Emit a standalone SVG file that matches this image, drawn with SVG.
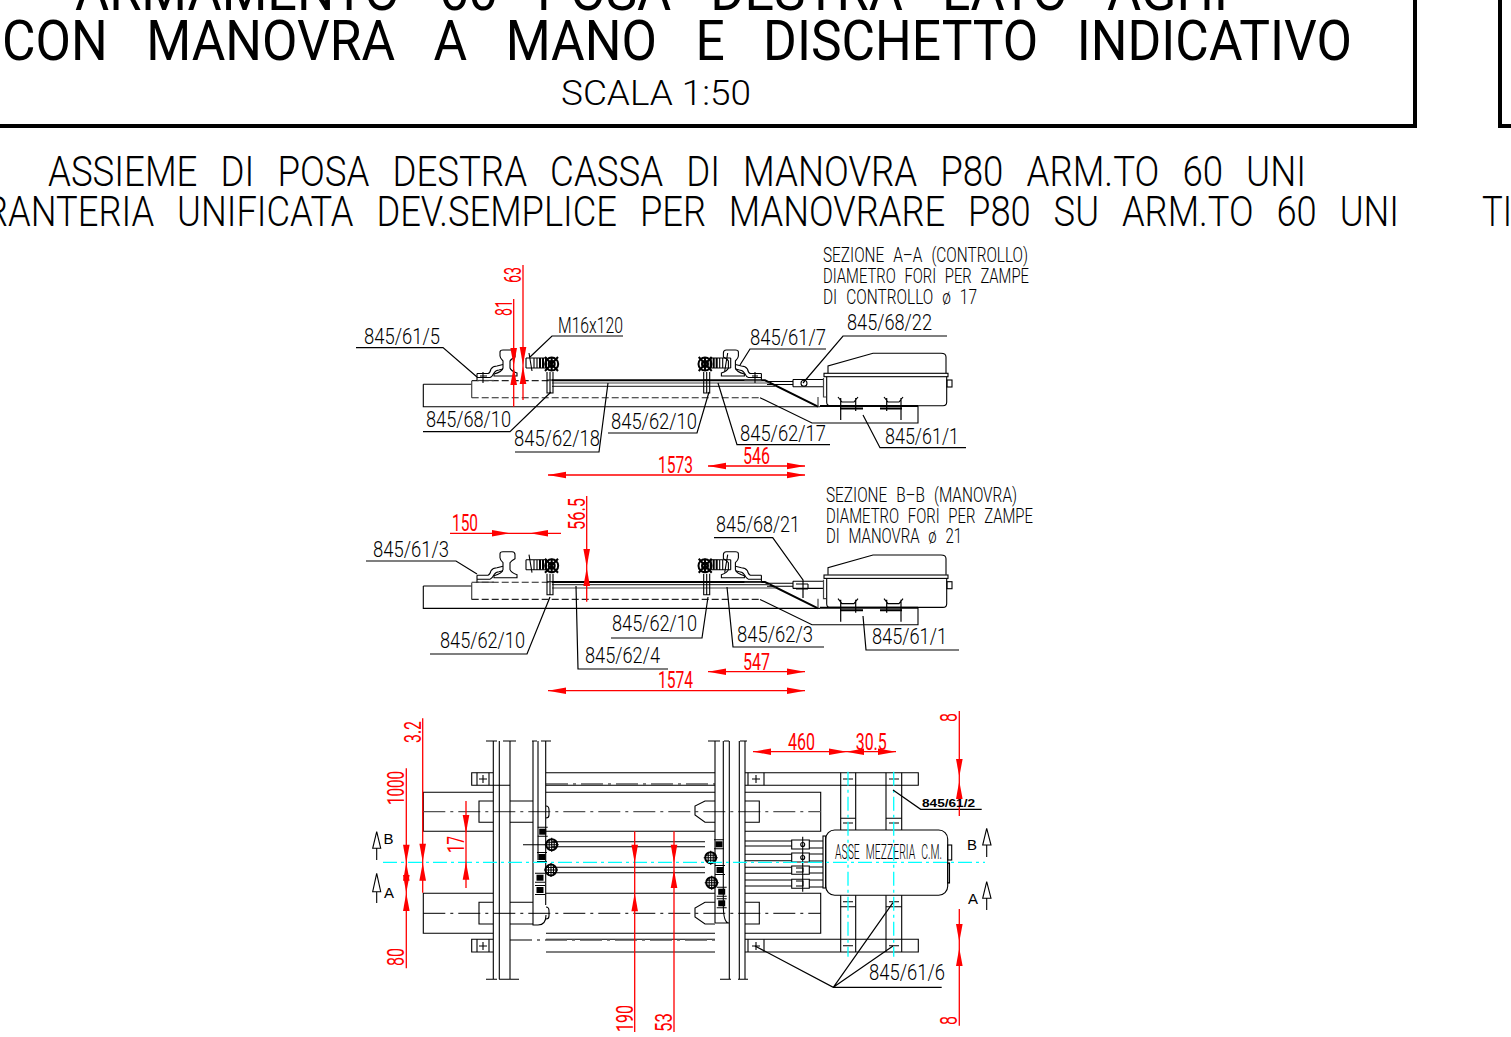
<svg xmlns="http://www.w3.org/2000/svg" width="1511" height="1037" viewBox="0 0 1511 1037">
<style>
text{font-family:Roboto,"Liberation Sans",sans-serif;font-weight:300;fill:#000;white-space:pre}
.t1{font-size:56px;font-weight:400;word-spacing:7px}
.t2{font-size:42px;word-spacing:3px}
.t3{font-size:35px}
.l{font-size:22px}
.s{font-size:21px;word-spacing:1px}
.r{font-size:23px;fill:#f00;font-weight:400}
.b{font-size:11px;font-weight:700;font-family:"Liberation Sans",sans-serif}
.m{font-size:15px;font-family:"Liberation Sans",sans-serif;font-weight:400}
.k{fill:none;stroke:#000;stroke-width:1.1}
.g{fill:none;stroke:#444;stroke-width:1.2}
.th{fill:none;stroke:#000;stroke-width:2}
.d{fill:none;stroke:#222;stroke-width:1.1;stroke-dasharray:7 3}
.w{fill:#fff;stroke:#000;stroke-width:1.1}
.ld{fill:none;stroke:#000;stroke-width:1.2}
.rd{fill:none;stroke:#f00;stroke-width:1.3}
.cy{fill:none;stroke:#0ff;stroke-width:1.3;stroke-dasharray:14 4 3 4}
.cl{fill:none;stroke:#000;stroke-width:1;stroke-dasharray:22 5 3 5}
.clg{fill:none;stroke:#555;stroke-width:1.3;stroke-dasharray:22 5 3 5}
.fr{fill:none;stroke:#000;stroke-width:4}
.ar{fill:#f00}
</style>
<defs>
<path id="aR" class="ar" d="M0,0L-18,-3.3V3.3Z"/>
<path id="aL" class="ar" d="M0,0L18,-3.3V3.3Z"/>
<path id="aD" class="ar" d="M0,0L-3.3,-18H3.3Z"/>
<path id="aU" class="ar" d="M0,0L-3.3,18H3.3Z"/>
<g id="rail">
<path class="w" d="M500,352Q500,350 503,350H512Q515,350 515,353V357Q511,359 510,361V368Q511,371 517,373V376H494V374Q502,372 503,368V361Q500,358 500,356Z"/>
<path class="k" d="M477,373.5H488Q490,373 491,369Q493,366 497,366L503,364.5M477,377.5H490Q492,377 494,373Q496,370 499,370L503,369M477,373.5V381"/>
<path class="g" d="M477,380.5H494"/>
</g>
<g id="cluster">
<path class="k" d="M529,353L532,371M526,358H547M526,368H548M526,358V368M534,358V368M537,358V368"/>
<path class="th" d="M540,358V368M543,358V368M546,358V368"/>
<circle class="th" cx="551.7" cy="364" r="6.5"/>
<circle class="th" cx="551.7" cy="364" r="3"/>
<path class="k" d="M547,372V393H553V372M550,372V393M547,380H553"/>
<path class="th" d="M545,357L558,371M545,371L558,357M551.7,357V371"/>
</g>
<g id="section">
<path class="k" d="M423.3,384.3H472M423.3,384.3V406.7H820"/>
<path class="g" d="M471.7,381V397.7"/>
<path class="d" d="M471.7,380.6H552M471.7,397.7H760"/>
<path class="k" d="M760,397.7L812,423H918V405.7"/>
<path class="th" d="M552,380.3H765L818,406.7"/>
<path class="g" d="M552,383H770M552,386.3H776"/>
<use href="#rail"/>
<use href="#rail" transform="matrix(-1 0 0 1 1238.4 0)"/>
<use href="#cluster"/>
<use href="#cluster" transform="matrix(-1 0 0 1 1256.7 0)"/>
<path class="k" d="M793,379.5H823M793,386.7H823M793,379.5V386.7M767,381.5H793M767,384.5H793"/>
<path class="g" d="M823.5,378V397H826M818,397V406"/>
<path class="k" d="M826.7,376.7V402Q826.7,405.7 830,405.7H943Q946.7,405.7 946.7,402V376.7"/>
<rect class="k" x="824" y="373.3" width="124" height="3.4"/>
<path class="k" d="M828,373V366L873,353.3H941Q946,353.3 946,357V373"/>
<rect class="k" x="947" y="380" width="5" height="7"/>
<path class="th" d="M820,406H918"/>
<path class="ld" d="M840.7,398V420M855.7,398V411M838,397L842,402H854L858,397M886.7,398V411M901,398V420M884,397L888,402H899L903,397"/>
<path class="th" d="M840,408.5H863M880,408.5H902"/>
</g>
<g id="boltP"><rect x="-3.5" y="-3" width="7" height="6" fill="#000"/><path class="k" d="M-5,-4.5H5M-5,4.5H5"/></g>
<g id="boltC"><circle class="th" r="5.5"/><path class="k" d="M-7,0H7M0,-7V7M-2.5,-5V5M2.5,-5V5M-5,-2.5H5M-5,2.5H5"/></g>
</defs>

<g id="title-block">
<path class="fr" d="M-5,126H1415V-5M1500,-5V126H1515"/>
<text class="t1" x="75" y="10" textLength="1153" lengthAdjust="spacingAndGlyphs">ARMAMENTO  60  POSA  DESTRA  LATO  AGHI</text>
<text class="t1" x="2" y="60" textLength="1350" lengthAdjust="spacingAndGlyphs">CON  MANOVRA  A  MANO  E  DISCHETTO  INDICATIVO</text>
<text class="t3" x="561" y="105" textLength="190" lengthAdjust="spacingAndGlyphs">SCALA 1:50</text>
<text class="t2" x="48" y="186" textLength="1258" lengthAdjust="spacingAndGlyphs">ASSIEME  DI  POSA  DESTRA  CASSA  DI  MANOVRA  P80  ARM.TO  60  UNI</text>
<text class="t2" x="-15" y="226" textLength="1414" lengthAdjust="spacingAndGlyphs">RANTERIA  UNIFICATA  DEV.SEMPLICE  PER  MANOVRARE  P80  SU  ARM.TO  60  UNI</text>
<text class="t2" x="1482" y="226" textLength="30" lengthAdjust="spacingAndGlyphs">TI</text>
</g>

<g id="section-a-a">
<use href="#section"/>
<path class="k" d="M483,372V383M480,376H487"/>
<path class="k" d="M755,372V383M752,376H758"/>
<circle class="k" cx="804" cy="383.3" r="3"/>
<text class="s" x="823" y="262" textLength="205" lengthAdjust="spacingAndGlyphs">SEZIONE  A–A  (CONTROLLO)</text>
<text class="s" x="823" y="283" textLength="206" lengthAdjust="spacingAndGlyphs">DIAMETRO  FORI  PER  ZAMPE</text>
<text class="s" x="823" y="304" textLength="154" lengthAdjust="spacingAndGlyphs">DI  CONTROLLO  ø  17</text>
</g>

<g id="section-b-b">
<use href="#section" y="201.7"/>
<path class="k" d="M796,584H808M796,589H808M808,584V589"/>
<text class="s" x="826" y="501.7" textLength="191" lengthAdjust="spacingAndGlyphs">SEZIONE  B–B  (MANOVRA)</text>
<text class="s" x="826" y="522.7" textLength="207" lengthAdjust="spacingAndGlyphs">DIAMETRO  FORI  PER  ZAMPE</text>
<text class="s" x="826" y="542.7" textLength="136" lengthAdjust="spacingAndGlyphs">DI  MANOVRA  ø  21</text>
</g>

<g id="plan-view">
<g id="plan-sleepers">
<path class="k" d="M493,792.3H423.3V831.3H493M546,792.3H715M745,792.3H820.7V831.3H745M546,831.3H715"/>
<path class="k" d="M493,893.3H423.3V933.3H493M546,893.3H715M745,893.3H820.7V933.3H745M546,933.3H715"/>
<path class="clg" d="M423.3,811.7H820.7"/>
<path class="cl" d="M423.3,913.3H820.7"/>
<path class="k" d="M493,801H479V822.3H493M510,801H533M510,822.3H533M745,801H759.3V822.3H745M715,801H705L695,806V815L705,822.3H715"/>
<path class="k" d="M493,902.3H479V924H493M510,902.3H533M510,924H533M745,902.3H759.3V924H745M715,902.3H705L695,908V917L705,924H715"/>
<path class="k" d="M546,806Q549,806 549,810V815Q549,818 546,818M546,907Q549,907 549,911V916Q549,919 546,919"/>
</g>
<g id="plan-strips">
<path class="k" d="M493,772.7H471.7V785.3H493M510,785.3H493M546,772.7H715M745,772.7H918.3V785.3H745M546,785.3H715"/>
<path class="k" d="M493,939.3H471.7V952H493M546,939.3H715M745,939.3H918.3V952H745M546,952H715"/>
<path class="clg" d="M546,784H715"/>
<path class="clg" d="M510,940H715"/>
<path class="k" d="M477,772.7V785.3M489,772.7V785.3M483,775V783M479,779H487M477,939.3V952M489,939.3V952M483,942V950M479,946H487"/>
<path class="k" d="M748,772.7V785.3M764,772.7V785.3M756,775V783M752,779H760M748,939.3V952M764,939.3V952M756,942V950M752,946H760"/>
</g>
<g id="plan-rails">
<path class="k" d="M493.3,741V979.3M499.3,741V979.3M510,741V979.3M486,741H497M503,741H516M486,979.3H497M499,979.3H519"/>
<path class="k" d="M533,741V925H538Q546,925 546,915M538,741V860M545.7,741V905M532,741H537M541,741H551"/>
<path class="k" d="M715,741V923M723.3,741V905Q723.3,923 729,923H715M708,741H720M724,741H729M729.3,741V979.3M739.3,741V979.3M745,741V979.3M740,741H747M720,979.3H731M738,979.3H748"/>
</g>
<g id="plan-rods">
<path class="k" d="M552,841.7H705M552,846.7H705M552,867.3H705M552,872.7H705M523,844.7H546"/>
<path class="k" d="M745,841H791.7M745,846H791.7M745,854.3H791.7M745,860.7H791.7M745,867.3H791.7M745,873.3H791.7M745,880H791.7M745,886H791.7"/>
<path class="k" d="M791.7,840H809.3V849H791.7ZM791.7,853H809.3V862H791.7ZM791.7,866H809.3V874.3H791.7ZM791.7,879.3H809.3V888.3H791.7Z"/>
<path class="k" d="M809.3,841H823M809.3,848H823M809.3,854H823M809.3,861H823M809.3,867H823M809.3,873H823M809.3,880H823M809.3,887H823"/>
<path class="k" d="M802.7,836.7V891.7"/>
<circle class="k" cx="802.7" cy="844.5" r="2"/><circle class="k" cx="802.7" cy="857.5" r="2"/>
<path class="k" d="M796,868H803V872H796M796,881H803V886H796"/>
</g>
<g id="plan-bolts">
<use href="#boltP" x="542.7" y="831.7"/><use href="#boltP" x="542" y="857"/><use href="#boltP" x="540" y="877.7"/><use href="#boltP" x="540" y="890"/>
<use href="#boltC" x="551.7" y="844.7"/><use href="#boltC" x="551" y="870"/>
<use href="#boltP" x="719" y="844.3"/><use href="#boltP" x="720" y="870"/><use href="#boltP" x="721.7" y="891.7"/><use href="#boltP" x="721.7" y="903.3"/>
<use href="#boltC" x="710.7" y="857.7"/><use href="#boltC" x="711.7" y="882.7"/>
</g>
<g id="plan-feet">
<path class="k" d="M840.7,772.7V830M855.7,772.7V830M840.7,895V952M855.7,895V952M886,772.7V830M901.7,772.7V830M886,895V952M901.7,895V952"/>
<path class="k" d="M840.7,818.3H855.7M886,818.3H901.7M840.7,906.7H855.7M886,906.7H901.7"/>
<path class="k" d="M843,779H853M889,779H899M843,823H853M889,823H899M843,901.7H853M889,901.7H899M843,945.7H853M889,945.7H899"/>
</g>
<g id="machine-box">
<rect class="w" x="825.7" y="830" width="122" height="65.3" rx="9"/>
<rect class="k" x="823" y="836" width="2.7" height="52"/>
<rect class="k" x="947.7" y="845" width="4" height="15"/>
<rect class="k" x="947.7" y="863" width="1.8" height="20"/>
<text class="s" x="835" y="859.3" textLength="107" lengthAdjust="spacingAndGlyphs">ASSE  MEZZERIA  C.M.</text>
</g>
<path class="cy" d="M383,862.3H985"/>
<path class="cy" d="M848,771.7V956.7M893.7,771.7V956.7"/>
<g id="section-marks">
<path class="k" d="M376.7,831.7L372.7,848.3H380.7ZM376.7,848.3V860M376.7,873.3L372.7,891.7H380.7ZM376.7,891.7V903"/>
<path class="k" d="M986.7,828.3L982.7,845H991ZM986.7,845V857M986.7,881.7L982.7,898.3H991ZM986.7,898.3V910"/>
<text class="m" x="383.5" y="843.5">B</text>
<text class="m" x="384" y="897.5">A</text>
<text class="m" x="967" y="849.5">B</text>
<text class="m" x="968" y="903.5">A</text>
</g>
</g>

<g id="connectors">
<g id="leaders">
<path class="ld" d="M356,347.6H443L477,377"/>
<path class="ld" d="M623,336H552L530,357"/>
<path class="ld" d="M423,431.7H510L551,392"/>
<path class="ld" d="M515,452H599L608,383"/>
<path class="ld" d="M608,433H697L709,392"/>
<path class="ld" d="M826,349H750L740,365"/>
<path class="ld" d="M947,336H843L803,383"/>
<path class="ld" d="M830,444.7H737L718,383"/>
<path class="ld" d="M966,447.7H880L863,415"/>
<path class="ld" d="M366,561H456L477,574"/>
<path class="ld" d="M430,654H527L550,597"/>
<path class="ld" d="M611,638H702L708,597"/>
<path class="ld" d="M668,669H578L576,586"/>
<path class="ld" d="M714,537.7H772.7L803,580V598"/>
<path class="ld" d="M824,647H733L727,587"/>
<path class="ld" d="M959,650H866L863,616"/>
<path class="ld" d="M981.7,809.3H920.7L893,790"/>
<path class="ld" d="M941.7,987.3H833.3L755,946M833.3,987.3L893,902.7M833.3,987.3L893,946"/>
</g>
<g id="dimensions">
<path class="rd" d="M523,265V400M513.7,299V406.7"/>
<use href="#aD" x="523" y="365"/><use href="#aU" x="523" y="366"/><use href="#aD" x="513.7" y="366"/><use href="#aU" x="513.7" y="367"/>
<path class="rd" d="M548,475H805M708,466H805"/>
<use href="#aL" x="548" y="475"/><use href="#aR" x="805" y="475"/><use href="#aL" x="708" y="466"/><use href="#aR" x="805" y="466"/>
<path class="rd" d="M450,533.3H561M586.7,496V601.7"/>
<use href="#aR" x="510" y="533.3"/><use href="#aL" x="530" y="533.3"/><use href="#aD" x="586.7" y="567"/><use href="#aU" x="586.7" y="568"/>
<path class="rd" d="M548,690.7H805M708,671.7H805"/>
<use href="#aL" x="548" y="690.7"/><use href="#aR" x="805" y="690.7"/><use href="#aL" x="708" y="671.7"/><use href="#aR" x="805" y="671.7"/>
<path class="rd" d="M753,751.7H896"/>
<use href="#aL" x="753" y="751.7"/><use href="#aR" x="847" y="751.7"/><use href="#aL" x="846" y="751.7"/><use href="#aR" x="896" y="751.7"/>
<path class="rd" d="M959.3,711V816M959.3,909V1025.7"/>
<use href="#aD" x="959.3" y="777"/><use href="#aU" x="959.3" y="781"/><use href="#aD" x="959.3" y="942"/><use href="#aU" x="959.3" y="948"/>
<path class="rd" d="M422.7,718.3V892.7M406.3,768.3V968.3M466,801V888"/>
<use href="#aD" x="422.7" y="861.7"/><use href="#aU" x="422.7" y="862.7"/>
<use href="#aD" x="406.3" y="862.7"/><use href="#aU" x="406.3" y="862.7"/><use href="#aD" x="406.3" y="893"/><use href="#aU" x="406.3" y="893"/>
<use href="#aD" x="466" y="833"/><use href="#aU" x="466" y="861.7"/>
<path class="rd" d="M634.7,831.3V1032M674,831.3V1032"/>
<use href="#aD" x="634.7" y="862.7"/><use href="#aU" x="634.7" y="893.3"/><use href="#aD" x="674" y="862.7"/><use href="#aU" x="674" y="870"/>
</g>
</g>

<g id="labels">
<text class="l" x="364" y="344" textLength="76" lengthAdjust="spacingAndGlyphs">845/61/5</text>
<text class="l" x="558" y="333" textLength="65" lengthAdjust="spacingAndGlyphs">M16x120</text>
<text class="l" x="426" y="427" textLength="85" lengthAdjust="spacingAndGlyphs">845/68/10</text>
<text class="l" x="514" y="446" textLength="86" lengthAdjust="spacingAndGlyphs">845/62/18</text>
<text class="l" x="611" y="429" textLength="86" lengthAdjust="spacingAndGlyphs">845/62/10</text>
<text class="l" x="750" y="345" textLength="76" lengthAdjust="spacingAndGlyphs">845/61/7</text>
<text class="l" x="847" y="330" textLength="85" lengthAdjust="spacingAndGlyphs">845/68/22</text>
<text class="l" x="740" y="441" textLength="86" lengthAdjust="spacingAndGlyphs">845/62/17</text>
<text class="l" x="885" y="444" textLength="74" lengthAdjust="spacingAndGlyphs">845/61/1</text>
<text class="l" x="373" y="557" textLength="76" lengthAdjust="spacingAndGlyphs">845/61/3</text>
<text class="l" x="440" y="648" textLength="85" lengthAdjust="spacingAndGlyphs">845/62/10</text>
<text class="l" x="612" y="631" textLength="85" lengthAdjust="spacingAndGlyphs">845/62/10</text>
<text class="l" x="585" y="662.7" textLength="75" lengthAdjust="spacingAndGlyphs">845/62/4</text>
<text class="l" x="716" y="531.7" textLength="84" lengthAdjust="spacingAndGlyphs">845/68/21</text>
<text class="l" x="737" y="641.7" textLength="76" lengthAdjust="spacingAndGlyphs">845/62/3</text>
<text class="l" x="872" y="644" textLength="75" lengthAdjust="spacingAndGlyphs">845/61/1</text>
<text class="b" x="922" y="807" textLength="53" lengthAdjust="spacingAndGlyphs">845/61/2</text>
<text class="l" x="869" y="980" textLength="76" lengthAdjust="spacingAndGlyphs">845/61/6</text>
<text class="r" x="658" y="473" textLength="35" lengthAdjust="spacingAndGlyphs">1573</text>
<text class="r" x="743" y="464" textLength="27" lengthAdjust="spacingAndGlyphs">546</text>
<text class="r" x="452" y="531" textLength="26" lengthAdjust="spacingAndGlyphs">150</text>
<text class="r" x="743" y="670" textLength="27" lengthAdjust="spacingAndGlyphs">547</text>
<text class="r" x="658" y="688" textLength="35" lengthAdjust="spacingAndGlyphs">1574</text>
<text class="r" x="788" y="749.5" textLength="27" lengthAdjust="spacingAndGlyphs">460</text>
<text class="r" x="855.7" y="749.5" textLength="31" lengthAdjust="spacingAndGlyphs">30.5</text>
<text class="r" transform="translate(521,283) rotate(-90)" textLength="16" lengthAdjust="spacingAndGlyphs">63</text>
<text class="r" transform="translate(512,316) rotate(-90)" textLength="16" lengthAdjust="spacingAndGlyphs">81</text>
<text class="r" transform="translate(585,530) rotate(-90)" textLength="32" lengthAdjust="spacingAndGlyphs">56.5</text>
<text class="r" transform="translate(421,743) rotate(-90)" textLength="22" lengthAdjust="spacingAndGlyphs">3.2</text>
<text class="r" transform="translate(404,805) rotate(-90)" textLength="34" lengthAdjust="spacingAndGlyphs">1000</text>
<text class="r" transform="translate(404,966) rotate(-90)" textLength="18" lengthAdjust="spacingAndGlyphs">80</text>
<text class="r" transform="translate(464,853) rotate(-90)" textLength="17" lengthAdjust="spacingAndGlyphs">17</text>
<text class="r" transform="translate(633,1032) rotate(-90)" textLength="27" lengthAdjust="spacingAndGlyphs">190</text>
<text class="r" transform="translate(672,1032) rotate(-90)" textLength="19" lengthAdjust="spacingAndGlyphs">53</text>
<text class="r" transform="translate(957,722) rotate(-90)" textLength="9" lengthAdjust="spacingAndGlyphs">8</text>
<text class="r" transform="translate(957,1025) rotate(-90)" textLength="9" lengthAdjust="spacingAndGlyphs">8</text>
</g>
</svg>
